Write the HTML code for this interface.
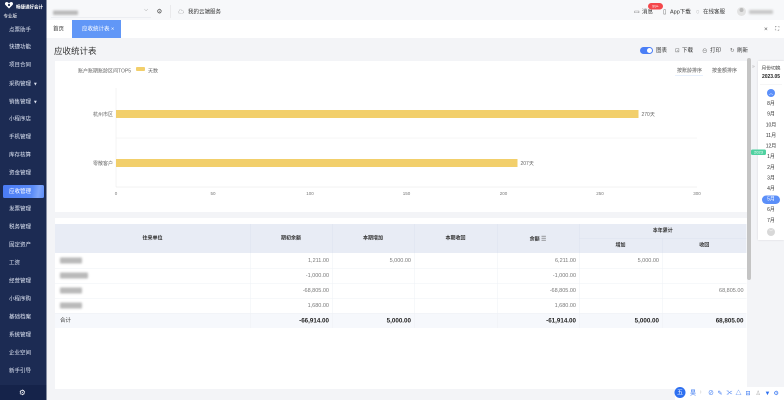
<!DOCTYPE html>
<html><head><meta charset="utf-8">
<style>
*{margin:0;padding:0;box-sizing:border-box}
html,body{width:784px;height:400px;overflow:hidden;background:#f3f4f7}
body{font-family:"Liberation Sans","Noto Sans CJK SC",sans-serif}
#r{position:absolute;left:0;top:0;width:1568px;height:800px;transform:scale(.5);transform-origin:0 0;background:#f3f4f7;overflow:hidden}
.a{position:absolute;white-space:nowrap}
.side{left:0;top:0;width:93px;height:800px;background:#1c2b53}
.mi{position:absolute;left:18px;font-size:11px;line-height:12px;color:#dfe5f3}
.blur{position:absolute;background:#b9b9b9;filter:blur(2px);border-radius:2px}
.hc{font-size:11px;line-height:12px;color:#333}
.th{position:absolute;font-size:10px;line-height:12px;color:#333;font-weight:bold;text-align:center}
.td{position:absolute;font-size:11px;line-height:12px;color:#777;text-align:right}
.tt{position:absolute;font-size:12.5px;line-height:14px;color:#222;font-weight:bold;text-align:right}
.mo{position:absolute;left:1516px;width:52px;text-align:center;font-size:10px;line-height:12px;color:#333}
.ic{position:absolute;font-size:12px;line-height:14px;color:#2d6ff0}
</style></head><body>
<div id="r">
<!-- sidebar -->
<div class="a side"></div>
<svg class="a" style="left:9px;top:3px" width="18" height="15" viewBox="0 0 18 15"><path d="M9 14 L2 7 C0 5 1 1 4.5 1 C6.5 1 8 2.5 9 4 C10 2.5 11.5 1 13.5 1 C17 1 18 5 16 7 Z" fill="#fff"/><circle cx="9" cy="7" r="2.2" fill="#1c2b53"/></svg>
<div class="a" style="left:32px;top:7px;font-size:9px;color:#fff;font-weight:bold">畅捷通好会计</div>
<div class="a" style="left:7px;top:25px;font-size:9px;color:#fff">专业版</div>
<div class="a" style="left:6px;top:370px;width:82px;height:26px;border-radius:3px;background:linear-gradient(100deg,#4a7bf5 0%,#5b8cf8 70%,#7fa6fa 85%,#5b8cf8 100%)"></div>
<div class="mi" style="top:54px">点票助手</div>
<div class="mi" style="top:88px">快捷功能</div>
<div class="mi" style="top:124px">项目合同</div>
<div class="mi" style="top:162px">采购管理 &nbsp;▾</div>
<div class="mi" style="top:198px">销售管理 &nbsp;▾</div>
<div class="mi" style="top:232px">小程序店</div>
<div class="mi" style="top:268px">手机管理</div>
<div class="mi" style="top:304px">库存核算</div>
<div class="mi" style="top:340px">资金管理</div>
<div class="mi" style="top:377px;color:#fff">应收管理</div>
<div class="mi" style="top:412px">发票管理</div>
<div class="mi" style="top:448px">税务管理</div>
<div class="mi" style="top:484px">固定资产</div>
<div class="mi" style="top:520px">工资</div>
<div class="mi" style="top:556px">经营管理</div>
<div class="mi" style="top:592px">小程序购</div>
<div class="mi" style="top:628px">基础档案</div>
<div class="mi" style="top:664px">系统管理</div>
<div class="mi" style="top:700px">企业空间</div>
<div class="mi" style="top:736px">新手引导</div>
<div class="a" style="left:0;top:770px;width:93px;height:30px;background:#15234a"></div>
<div class="a" style="left:38px;top:776px;font-size:15px;color:#fff">⚙</div>

<!-- top header -->
<div class="a" style="left:93px;top:0;width:1475px;height:40px;background:#f7f8fa"></div>
<div class="blur" style="left:106px;top:21px;width:50px;height:9px"></div>
<div class="a" style="left:102px;top:35px;width:200px;height:1px;background:#e2e4ea"></div>
<div class="a" style="left:288px;top:13px;font-size:11px;color:#888">⌵</div>
<div class="a" style="left:313px;top:15px;font-size:13px;color:#555">⚙</div>
<div class="a" style="left:340px;top:10px;width:1px;height:26px;background:#ddd"></div>
<div class="a" style="left:356px;top:15px;font-size:12px;color:#666">☁</div>
<div class="a hc" style="left:376px;top:18px">我的云端服务</div>

<div class="a" style="left:1268px;top:16px;font-size:12px;color:#555">▭</div>
<div class="a hc" style="left:1284px;top:18px">消息</div>
<div class="a" style="left:1296px;top:6px;width:30px;height:13px;border-radius:7px;background:#f4474b;color:#fff;font-size:8px;line-height:13px;text-align:center">99+</div>
<div class="a" style="left:1326px;top:16px;font-size:12px;color:#555">▯</div>
<div class="a hc" style="left:1340px;top:18px">App下载</div>
<div class="a" style="left:1392px;top:16px;font-size:12px;color:#555">◌</div>
<div class="a hc" style="left:1406px;top:18px">在线客服</div>
<div class="a" style="left:1474px;top:14px;width:18px;height:18px;border-radius:9px;background:#e3e3e3"></div>
<div class="a" style="left:1479px;top:16px;width:8px;height:8px;border-radius:4px;background:#bbb"></div>
<div class="blur" style="left:1498px;top:20px;width:48px;height:8px;background:#c8c8c8"></div>

<!-- tab bar -->
<div class="a" style="left:93px;top:40px;width:1475px;height:36px;background:#fff"></div>
<div class="a hc" style="left:106px;top:52px">首页</div>
<div class="a" style="left:144px;top:40px;width:98px;height:36px;background:#6197f7"></div>
<div class="a" style="left:164px;top:52px;font-size:11px;line-height:12px;color:#fff">应收统计表 ×</div>
<div class="a" style="left:1528px;top:50px;font-size:13px;color:#555">×</div>
<div class="a" style="left:1550px;top:50px;font-size:12px;color:#555">⛶</div>

<!-- title row -->
<div class="a" style="left:108px;top:93px;font-size:17px;line-height:20px;color:#333">应收统计表</div>
<div class="a" style="left:1280px;top:94px;width:26px;height:14px;border-radius:7px;background:#4a7ef6"></div>
<div class="a" style="left:1294px;top:96px;width:10px;height:10px;border-radius:5px;background:#fff"></div>
<div class="a hc" style="left:1312px;top:95px">图表</div>
<div class="a" style="left:1350px;top:94px;font-size:11px;color:#666">⊡</div>
<div class="a hc" style="left:1364px;top:95px">下载</div>
<div class="a" style="left:1404px;top:94px;font-size:11px;color:#666">⊖</div>
<div class="a hc" style="left:1420px;top:95px">打印</div>
<div class="a" style="left:1460px;top:94px;font-size:11px;color:#666">↻</div>
<div class="a hc" style="left:1474px;top:95px">刷新</div>

<!-- chart card -->
<div class="a" style="left:110px;top:122px;width:1384px;height:302px;background:#fff"></div>
<div class="a" style="left:156px;top:133px;font-size:10px;color:#666">账户账期账龄区间TOP5</div>
<div class="a" style="left:272px;top:134px;width:18px;height:8px;border-radius:2px;background:#f2cf6b"></div>
<div class="a" style="left:296px;top:133px;font-size:10px;color:#666">天数</div>
<div class="a" style="left:1354px;top:132px;font-size:10px;color:#555">按账龄排序</div>
<div class="a" style="left:1350px;top:150px;width:56px;height:1px;background:#cfe0fb"></div>
<div class="a" style="left:1424px;top:132px;font-size:10px;color:#555">按金额排序</div>

<svg class="a" style="left:0;top:0" width="1568" height="800">
<line x1="232" y1="176" x2="232" y2="374" stroke="#e8e8e8" stroke-width="1"/>
<line x1="232" y1="276" x2="1394" y2="276" stroke="#eeeeee" stroke-width="1"/>
<line x1="232" y1="374" x2="1394" y2="374" stroke="#e6e6e6" stroke-width="1"/>
<rect x="232" y="220" width="1045" height="16" fill="#f2cf6b"/>
<rect x="232" y="318" width="803" height="16" fill="#f2cf6b"/>
<g font-family="Liberation Sans, Noto Sans CJK SC, sans-serif" font-size="10" fill="#666">
<text x="1283" y="232">270天</text>
<text x="1041" y="330">207天</text>
<text x="226" y="232" text-anchor="end">杭州市区</text>
<text x="226" y="330" text-anchor="end">零散客户</text>
</g>
<g font-family="Liberation Sans, sans-serif" font-size="9" fill="#777" text-anchor="middle">
<text x="232" y="390">0</text>
<text x="426" y="390">50</text>
<text x="620" y="390">100</text>
<text x="813" y="390">150</text>
<text x="1007" y="390">200</text>
<text x="1200" y="390">250</text>
<text x="1394" y="390">300</text>
</g>
</svg>

<!-- table card -->
<div class="a" style="left:110px;top:436px;width:1384px;height:342px;background:#fff"></div>
<div class="a" style="left:110px;top:448px;width:1383px;height:58px;background:#e8ecf5"></div>
<div class="a" style="left:1158px;top:476px;width:335px;height:1px;background:#dde2ee"></div>
<div class="a" style="left:110px;top:626px;width:1383px;height:30px;background:#f6f8fc"></div>
<svg class="a" style="left:0;top:0" width="1568" height="800">
<g stroke="#dde2ee" stroke-width="1">
<line x1="500.5" y1="448" x2="500.5" y2="506"/><line x1="664.5" y1="448" x2="664.5" y2="506"/>
<line x1="828.5" y1="448" x2="828.5" y2="506"/><line x1="994.5" y1="448" x2="994.5" y2="506"/>
<line x1="1158.5" y1="448" x2="1158.5" y2="506"/><line x1="1324.5" y1="476" x2="1324.5" y2="506"/>
</g>
<g stroke="#eef0f5" stroke-width="1">
<line x1="110" y1="536.5" x2="1493" y2="536.5"/><line x1="110" y1="566.5" x2="1493" y2="566.5"/>
<line x1="110" y1="596.5" x2="1493" y2="596.5"/><line x1="110" y1="626.5" x2="1493" y2="626.5"/>
<line x1="500.5" y1="506" x2="500.5" y2="656"/><line x1="664.5" y1="506" x2="664.5" y2="656"/>
<line x1="828.5" y1="506" x2="828.5" y2="656"/><line x1="994.5" y1="506" x2="994.5" y2="656"/>
<line x1="1158.5" y1="506" x2="1158.5" y2="656"/><line x1="1324.5" y1="506" x2="1324.5" y2="656"/>
</g>
</svg>
<div class="th" style="left:110px;top:471px;width:390px">往来单位</div>
<div class="th" style="left:500px;top:471px;width:164px">期初余额</div>
<div class="th" style="left:664px;top:471px;width:164px">本期增加</div>
<div class="th" style="left:828px;top:471px;width:166px">本期收回</div>
<div class="th" style="left:994px;top:471px;width:164px">余额 <span style="font-weight:normal;color:#666;font-size:12px">☰</span></div>
<div class="th" style="left:1158px;top:456px;width:335px">本年累计</div>
<div class="th" style="left:1158px;top:485px;width:166px">增加</div>
<div class="th" style="left:1324px;top:485px;width:169px">收回</div>

<div class="blur" style="left:120px;top:515px;width:44px;height:12px"></div>
<div class="blur" style="left:120px;top:545px;width:56px;height:12px"></div>
<div class="blur" style="left:120px;top:575px;width:44px;height:12px"></div>
<div class="blur" style="left:120px;top:605px;width:44px;height:12px"></div>
<div class="a" style="left:120px;top:635px;font-size:11px;line-height:12px;color:#333">合计</div>

<div class="td" style="left:500px;top:515px;width:158px">1,211.00</div>
<div class="td" style="left:664px;top:515px;width:158px">5,000.00</div>
<div class="td" style="left:994px;top:515px;width:158px">6,211.00</div>
<div class="td" style="left:1158px;top:515px;width:160px">5,000.00</div>
<div class="td" style="left:500px;top:545px;width:158px">-1,000.00</div>
<div class="td" style="left:994px;top:545px;width:158px">-1,000.00</div>
<div class="td" style="left:500px;top:575px;width:158px">-68,805.00</div>
<div class="td" style="left:994px;top:575px;width:158px">-68,805.00</div>
<div class="td" style="left:1324px;top:575px;width:163px">68,805.00</div>
<div class="td" style="left:500px;top:605px;width:158px">1,680.00</div>
<div class="td" style="left:994px;top:605px;width:158px">1,680.00</div>

<div class="tt" style="left:500px;top:634px;width:158px">-66,914.00</div>
<div class="tt" style="left:664px;top:634px;width:158px">5,000.00</div>
<div class="tt" style="left:994px;top:634px;width:158px">-61,914.00</div>
<div class="tt" style="left:1158px;top:634px;width:160px">5,000.00</div>
<div class="tt" style="left:1324px;top:634px;width:163px">68,805.00</div>

<!-- scrollbar -->
<div class="a" style="left:1494px;top:116px;width:8px;height:444px;border-radius:4px;background:#c4c4c4"></div>

<!-- date panel -->
<div class="a" style="left:1504px;top:128px;font-size:10px;color:#aaa">»</div>
<div class="a" style="left:1516px;top:122px;width:52px;height:358px;background:#fff;box-shadow:0 0 4px rgba(0,0,0,.12)"></div>
<div class="mo" style="top:131px;font-size:9.5px">月份切换</div>
<div class="mo" style="top:148px;font-weight:bold;color:#222">2023.05</div>
<div class="a" style="left:1520px;top:168px;width:44px;height:1px;background:#eee"></div>
<div class="a" style="left:1534px;top:178px;width:16px;height:16px;border-radius:8px;background:#5b8ff9;color:#fff;font-size:9px;line-height:16px;text-align:center">︿</div>
<div class="mo" style="top:202px">8月</div>
<div class="mo" style="top:223px">9月</div>
<div class="mo" style="top:245px">10月</div>
<div class="mo" style="top:266px">11月</div>
<div class="mo" style="top:287px">12月</div>
<div class="mo" style="top:308px">1月</div>
<div class="mo" style="top:330px">2月</div>
<div class="mo" style="top:351px">3月</div>
<div class="mo" style="top:372px">4月</div>
<div class="a" style="left:1524px;top:391px;width:36px;height:17px;border-radius:9px;background:#5b8ff9"></div>
<div class="mo" style="top:393px;color:#fff">5月</div>
<div class="mo" style="top:414px">6月</div>
<div class="mo" style="top:436px">7月</div>
<div class="a" style="left:1534px;top:456px;width:16px;height:16px;border-radius:8px;background:#d8d8d8;color:#fff;font-size:9px;line-height:16px;text-align:center">﹀</div>
<div class="a" style="left:1502px;top:299px;width:30px;height:11px;border-radius:3px;background:#4fd1a0;color:#fff;font-size:8px;line-height:11px;text-align:center">2023</div>

<!-- bottom toolbar -->
<div class="a" style="left:1350px;top:774px;width:218px;height:26px;background:#fff"></div>
<div class="a" style="left:1349px;top:774px;width:22px;height:22px;border-radius:11px;background:#2d6ff0;color:#fff;font-size:12px;line-height:22px;text-align:center">五</div>
<div class="ic" style="left:1380px;top:779px">昊</div>
<div class="ic" style="left:1400px;top:779px;color:#aaa">⁾</div>
<div class="ic" style="left:1416px;top:779px">⊘</div>
<div class="ic" style="left:1435px;top:779px">✎</div>
<div class="ic" style="left:1453px;top:779px">✂</div>
<div class="ic" style="left:1471px;top:779px">△</div>
<div class="ic" style="left:1491px;top:779px">⊟</div>
<div class="ic" style="left:1511px;top:779px;color:#aaa">♙</div>
<div class="ic" style="left:1529px;top:779px">▼</div>
<div class="ic" style="left:1547px;top:779px">⚙</div>
</div>
</body></html>
